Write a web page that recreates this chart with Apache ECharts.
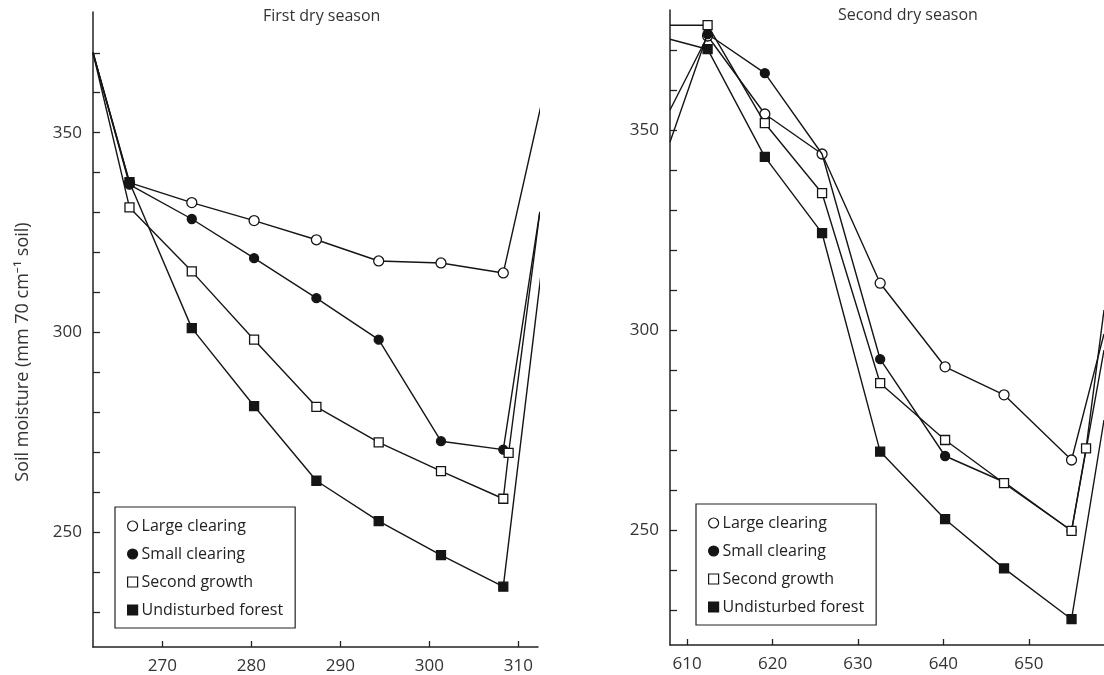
<!DOCTYPE html>
<html>
<head>
<meta charset="utf-8">
<script src="https://cdn.jsdelivr.net/npm/echarts@6/dist/echarts.min.js"></script>
<style>
html,body{margin:0;padding:0;background:#fff;}
#chart{width:1104px;height:675px;}
</style>
</head>
<body>
<div id="chart"></div>
<script>
// ---------- Data ----------
const seriesNames = ['Large clearing', 'Small clearing', 'Second growth', 'Undisturbed forest'];

// First dry season (day number)
const days1 = [262.2, 266.3, 273.3, 280.3, 287.3, 294.3, 301.3, 308.3];
const large1  = [370, 337.5, 332.5, 328.0, 323.2, 317.9, 317.4, 314.9];
const small1  = [370, 337.0, 328.4, 318.6, 308.6, 298.2, 272.8, 270.7];
const second1 = [370, 331.3, 315.3, 298.2, 281.4, 272.5, 265.3, 258.4];
const forest1 = [370, 337.6, 301.1, 281.6, 262.9, 252.8, 244.3, 236.4];
// extra points after the last sampling (day, value)
const large1Tail  = [[312.6, 357.4]];
const small1Tail  = [[312.4, 330.2]];
const second1Tail = [[308.9, 269.9], [312.4, 330.0]];
const forest1Tail = [[312.6, 315.7]];

// Second dry season (day number)
const days2 = [608.0, 612.4, 619.1, 625.8, 632.6, 640.2, 647.1, 655.0];
const large2  = [355.0, 373.5, 354.0, 344.0, 311.7, 290.8, 283.8, 267.5];
const small2  = [347.0, 374.0, 364.2, 344.0, 292.7, 268.5, 262.0, 249.8];
const second2 = [376.2, 376.2, 351.7, 334.2, 286.7, 272.5, 261.7, 249.8];
const forest2 = [372.7, 370.2, 343.3, 324.2, 269.6, 252.7, 240.4, 227.7];
const large2Tail  = [[658.8, 299.0]];
const small2Tail  = [[658.8, 295.0]];
const second2Tail = [[656.7, 270.4], [658.8, 305.0]];
const forest2Tail = [[658.8, 277.5]];

const yTicks = [230, 240, 250, 260, 270, 280, 290, 300, 310, 320, 330, 340, 350, 360, 370];
const yLabels = [250, 300, 350];
const xTicks1 = [270, 280, 290, 300, 310];
const xTicks2 = [610, 620, 630, 640, 650];

// ---------- Styling ----------
const INK = '#151515';
const FONT = '"Open Sans", "Noto Sans", sans-serif';
const markerDefs = [
  { symbol: 'circle', size: 10, fill: '#fff' },
  { symbol: 'circle', size: 9,  fill: INK },
  { symbol: 'rect',   size: 9,  fill: '#fff' },
  { symbol: 'rect',   size: 9,  fill: INK }
];

function buildData(days, vals, tail, hiddenIdx) {
  const out = days.map((d, i) => {
    const item = { value: [d, vals[i]] };
    if (i === 0 || (hiddenIdx && hiddenIdx.indexOf(i) >= 0)) item.symbol = 'none';
    return item;
  });
  tail.forEach((p, j) => {
    const item = { value: p };
    if (j === tail.length - 1) item.symbol = 'none';
    out.push(item);
  });
  return out;
}

function makeSeries(idx, gridIdx, data, clip) {
  const m = markerDefs[idx];
  return {
    name: seriesNames[idx],
    type: 'line',
    xAxisIndex: gridIdx,
    yAxisIndex: gridIdx,
    data: data,
    clip: clip,
    symbol: m.symbol,
    symbolSize: m.size,
    showAllSymbol: true,
    animation: false,
    lineStyle: { color: INK, width: 1.4 },
    itemStyle: { color: m.fill, borderColor: INK, borderWidth: 1.3 },
    emphasis: { disabled: true },
    z: 2 + idx
  };
}

function legendData() {
  return seriesNames.map((n, i) => ({
    name: n,
    icon: markerDefs[i].symbol,
    itemStyle: { color: markerDefs[i].fill, borderColor: INK, borderWidth: 1.2 }
  }));
}

function yAxis(gridIdx, min, max) {
  return {
    type: 'value', gridIndex: gridIdx, min: min, max: max,
    axisLine: { show: true, lineStyle: { color: '#222', width: 1.5 } },
    axisTick: { show: true, inside: true, length: 7, customValues: yTicks, lineStyle: { color: '#222', width: 1.3 } },
    axisLabel: { customValues: yLabels, fontSize: 17, color: '#333', fontFamily: FONT, margin: 11 },
    splitLine: { show: false }
  };
}
function xAxis(gridIdx, min, max, ticks) {
  return {
    type: 'value', gridIndex: gridIdx, min: min, max: max,
    axisLine: { show: true, onZero: false, lineStyle: { color: '#222', width: 1.5 } },
    axisTick: { show: true, inside: true, length: 6, customValues: ticks, lineStyle: { color: '#222', width: 1.3 } },
    axisLabel: { customValues: ticks, fontSize: 17, color: '#333', fontFamily: FONT, margin: 11 },
    splitLine: { show: false }
  };
}

function legend(left, top) {
  return {
    orient: 'vertical', left: left, top: top, selectedMode: false,
    borderColor: '#222', borderWidth: 1.2, padding: [11, 12, 10, 12],
    itemGap: 12, itemWidth: 10, itemHeight: 10,
    textStyle: { fontSize: 16, color: '#222', fontFamily: FONT, padding: [0, 0, 0, -1] },
    data: legendData()
  };
}

const chart = echarts.init(document.getElementById('chart'), null, { renderer: 'canvas' });
chart.setOption({
  backgroundColor: '#fff',
  animation: false,
  grid: [
    { left: 93, top: 12, width: 445, height: 635 },
    { left: 670, top: 10, width: 434, height: 635 }
  ],
  xAxis: [xAxis(0, 262.2, 312.2, xTicks1), xAxis(1, 608.0, 658.8, xTicks2)],
  yAxis: [yAxis(0, 221.3, 380.2), yAxis(1, 221.25, 380.0)],
  legend: [legend(115, 507), legend(696, 504)],
  graphic: [
    { type: 'text', left: 263, top: 8, style: { text: 'First dry season', font: '16px ' + FONT, fill: '#333' } },
    { type: 'text', left: 838, top: 7, style: { text: 'Second dry season', font: '16px ' + FONT, fill: '#333' } },
    { type: 'text', x: 23, y: 352, rotation: Math.PI / 2,
      style: { text: 'Soil moisture (mm 70 cm\u207B\u00B9 soil)', font: '18px ' + FONT, fill: '#333', align: 'center', verticalAlign: 'middle' } }
  ],
  series: [
    makeSeries(0, 0, buildData(days1, large1, large1Tail), false),
    makeSeries(1, 0, buildData(days1, small1, small1Tail), false),
    makeSeries(2, 0, buildData(days1, second1, second1Tail), false),
    makeSeries(3, 0, buildData(days1, forest1, forest1Tail), false),
    makeSeries(0, 1, buildData(days2, large2, large2Tail), true),
    makeSeries(1, 1, buildData(days2, small2, small2Tail, [3, 6]), true),
    makeSeries(2, 1, buildData(days2, second2, second2Tail), true),
    makeSeries(3, 1, buildData(days2, forest2, forest2Tail), true)
  ]
});
</script>
</body>
</html>
